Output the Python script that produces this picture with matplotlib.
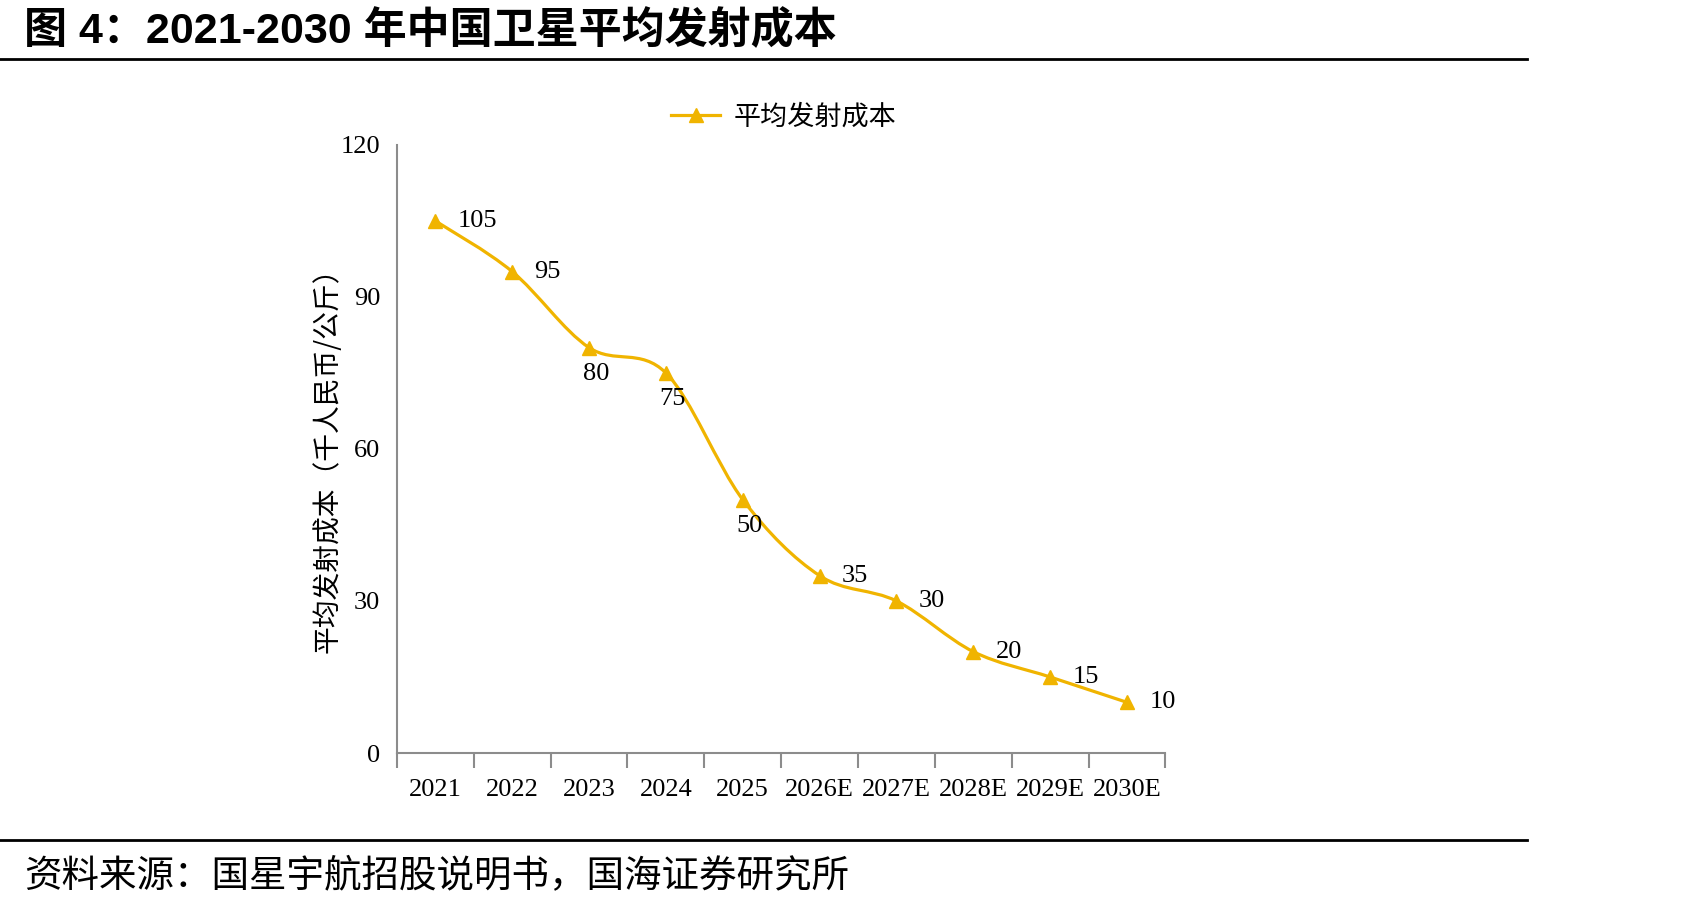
import numpy as np
import matplotlib
matplotlib.use("Agg")
import matplotlib.pyplot as plt
from matplotlib.path import Path
from matplotlib.patches import PathPatch
from matplotlib.lines import Line2D

years = ["2021", "2022", "2023", "2024", "2025", "2026E", "2027E", "2028E", "2029E", "2030E"]
cost = [105, 95, 80, 75, 50, 35, 30, 20, 15, 10]
yticks = [0, 30, 60, 90, 120]
# where each value label sits: r = right, b = below
label_pos = ["r", "r", "b", "b", "b", "r", "r", "r", "r", "r"]

title = "图 4：2021-2030 年中国卫星平均发射成本"
series_name = "平均发射成本"
ylabel = "平均发射成本（千人民币/公斤）"
source = "资料来源：国星宇航招股说明书，国海证券研究所"

gold = "#F0B400"
grey = "#8C8C8C"
num_font = ["Liberation Serif", "Noto Sans CJK SC"]
cjk_font = ["Noto Sans CJK SC", "DejaVu Sans"]

fig = plt.figure(figsize=(16.89, 9.09), dpi=100)
ax = fig.add_axes([0.235, 0.1716, 0.455, 0.669])

x = np.arange(len(cost))
y = np.array(cost, dtype=float)

# smooth line like the spreadsheet one: bezier segments with catmull-rom style handles
verts = [(x[0], y[0])]
codes = [Path.MOVETO]
n = len(x)
for i in range(n - 1):
    p0 = np.array([x[max(i - 1, 0)], y[max(i - 1, 0)]])
    p1 = np.array([x[i], y[i]])
    p2 = np.array([x[i + 1], y[i + 1]])
    p3 = np.array([x[min(i + 2, n - 1)], y[min(i + 2, n - 1)]])
    c1 = p1 + (p2 - p0) / 6
    c2 = p2 - (p3 - p1) / 6
    verts += [tuple(c1), tuple(c2), tuple(p2)]
    codes += [Path.CURVE4] * 3
ax.add_patch(PathPatch(Path(verts, codes), fill=False, edgecolor=gold, lw=2.3, capstyle="round"))
ax.plot(x, y, linestyle="none", marker="^", ms=10, color=gold)

for xi, yi, pos in zip(x, y, label_pos):
    if pos == "r":
        ax.annotate(f"{yi:g}", (xi, yi), xytext=(16, 0), textcoords="offset points",
                    ha="left", va="center", fontsize=19, family=num_font)
    else:
        ax.annotate(f"{yi:g}", (xi, yi), xytext=(5, -19), textcoords="offset points",
                    ha="center", va="center", fontsize=19, family=num_font)

ax.set_xlim(-0.5, len(years) - 0.5)
ax.set_ylim(0, 120)
ax.set_yticks(yticks)
ax.set_yticklabels([str(t) for t in yticks], fontsize=19, family=num_font)
ax.set_xticks(x)
ax.set_xticklabels(years, fontsize=19, family=num_font)
ax.set_xticks(np.arange(-0.5, len(years)), minor=True)
ax.tick_params(axis="x", which="major", length=0, pad=19)
ax.tick_params(axis="x", which="minor", length=11, width=1.5, color=grey, direction="out")
ax.tick_params(axis="y", length=0, pad=12)
for s in ["top", "right"]:
    ax.spines[s].set_visible(False)
for s in ["left", "bottom"]:
    ax.spines[s].set_color(grey)
    ax.spines[s].set_linewidth(1.5)
ax.set_ylabel(ylabel, fontsize=20, family=cjk_font, va="center")
ax.yaxis.set_label_coords(-0.09, 0.493)

handle = Line2D([], [], color=gold, lw=2.3, marker="^", ms=10)
fig.legend([handle], [series_name], loc="center", bbox_to_anchor=(0.464, 0.871),
           frameon=False, prop={"family": cjk_font, "size": 19.5}, handlelength=1.8,
           handletextpad=0.5)

fig.text(0.014, 0.966, title, fontsize=31, fontweight="bold", ha="left", va="center",
         family=["Liberation Sans", "Noto Sans CJK SC"])
fig.add_artist(Line2D([0, 0.904], [0.935, 0.935], color="black", lw=2))
fig.add_artist(Line2D([0, 0.904], [0.076, 0.076], color="black", lw=2))
fig.text(0.014, 0.036, source, fontsize=27, ha="left", va="center", family=cjk_font)

fig.savefig("out.png", dpi=100)
